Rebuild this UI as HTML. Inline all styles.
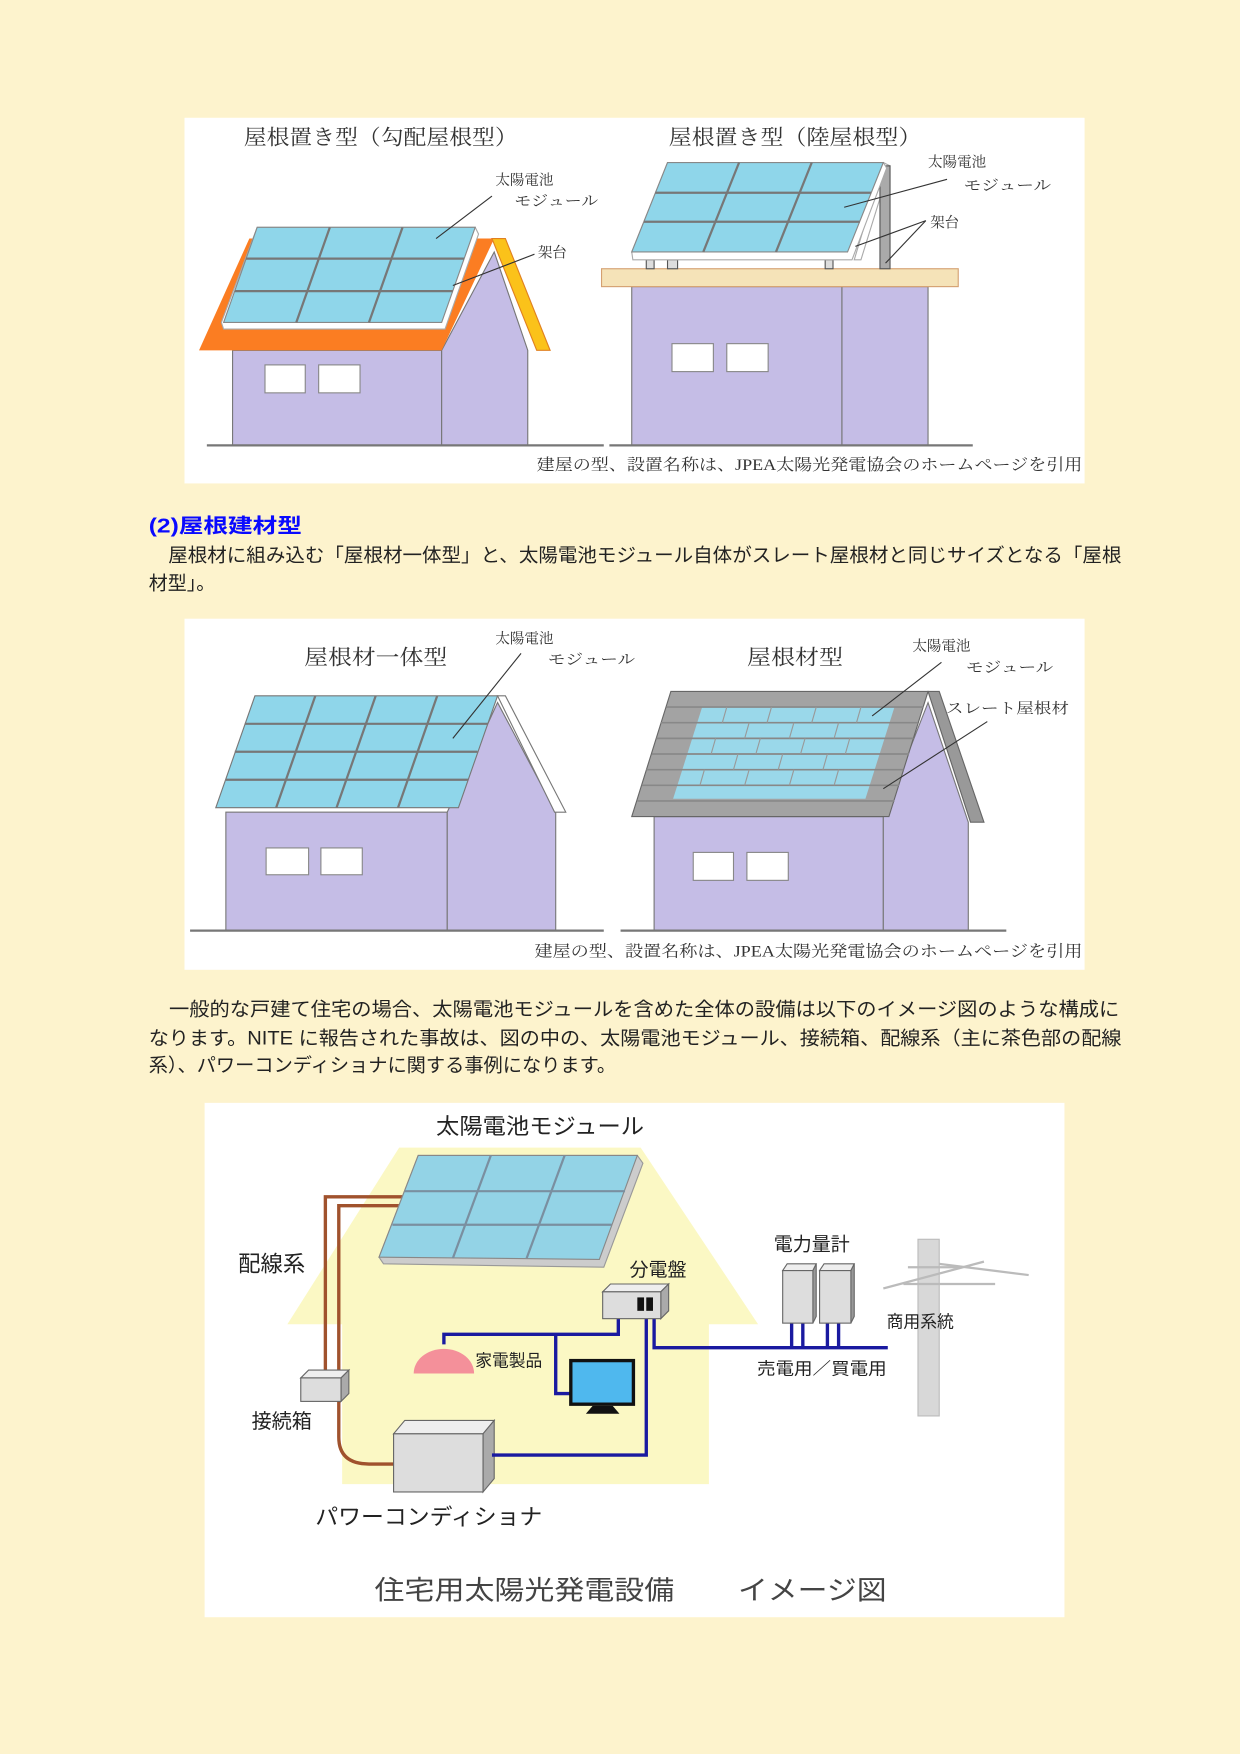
<!DOCTYPE html>
<html><head><meta charset="utf-8"><style>
html,body{margin:0;padding:0;background:#fdf3cd;}
svg{display:block}
.m{font-family:"Liberation Serif","Noto Serif CJK JP","Noto Serif CJK SC",serif;fill:#333}
.g{font-family:"Liberation Sans","Noto Sans CJK JP",sans-serif;fill:#222}
</style></head><body>
<svg width="1240" height="1754" viewBox="0 0 1109 1568" xmlns="http://www.w3.org/2000/svg">
<rect width="1109" height="1568" fill="#fdf3cd"/>

<!-- PANEL 1 -->
<rect x="165" y="105" width="805" height="327" fill="#fff"/>
<text class="m" x="218" y="129" font-size="19" textLength="245" lengthAdjust="spacingAndGlyphs">屋根置き型（勾配屋根型）</text>
<text class="m" x="598" y="129" font-size="19" textLength="226" lengthAdjust="spacingAndGlyphs">屋根置き型（陸屋根型）</text>
<!-- left house -->
<rect x="208" y="313" width="187" height="85" fill="#c5bde6" stroke="#777" stroke-width="1"/>
<polygon points="395,398 395,313 442,225 472,313 472,398" fill="#c5bde6" stroke="#777" stroke-width="1"/>
<polygon points="178,313 223,213 442,213 395,313" fill="#fb7d22"/>
<polygon points="440,213 452,213 492,313 480,313" fill="#fbc21a" stroke="#e08020" stroke-width="1"/>
<rect x="237" y="326" width="36" height="25" fill="#fff" stroke="#888"/>
<rect x="285" y="326" width="37" height="25" fill="#fff" stroke="#888"/>
<line x1="185" y1="398" x2="540" y2="398" stroke="#777" stroke-width="2"/>
<polygon points="230,203 425,203 428,209 398,294 200,294 198,288" fill="#fff" stroke="#aaa"/>
<polygon points="230,203 425,203 395,288 200,288" fill="#8fd6ea" stroke="#888" stroke-width="1"/>
<g stroke="#777" stroke-width="2"><line x1="295" y1="203" x2="265" y2="288"/><line x1="360" y1="203" x2="330" y2="288"/><line x1="220" y1="231" x2="415" y2="231"/><line x1="210" y1="260" x2="405" y2="260"/></g>
<text class="m" x="443" y="165" font-size="13">太陽電池</text>
<text class="m" x="460" y="184" font-size="13" textLength="75" lengthAdjust="spacingAndGlyphs">モジュール</text>
<line x1="440" y1="175" x2="390" y2="213" stroke="#333"/>
<text class="m" x="481" y="230" font-size="13">架台</text>
<line x1="478" y1="227" x2="405" y2="255" stroke="#333"/>
<!-- right house -->
<rect x="565" y="256" width="188" height="142" fill="#c5bde6" stroke="#777"/>
<rect x="753" y="256" width="77" height="142" fill="#c5bde6" stroke="#777"/>
<rect x="538" y="240" width="319" height="16" fill="#f5e3b8" stroke="#d4a070"/>
<rect x="601" y="307" width="37" height="25" fill="#fff" stroke="#888"/>
<rect x="650" y="307" width="37" height="25" fill="#fff" stroke="#888"/>
<line x1="545" y1="398" x2="870" y2="398" stroke="#777" stroke-width="2"/>
<rect x="578" y="232" width="7" height="8" fill="#ddd" stroke="#555"/>
<rect x="597" y="232" width="9" height="8" fill="#ddd" stroke="#555"/>
<rect x="738" y="232" width="7" height="8" fill="#ddd" stroke="#555"/>
<polygon points="790,145 796,148 770,232 764,232" fill="#fff" stroke="#aaa"/>
<rect x="787" y="148" width="9" height="92" fill="#aaa" stroke="#555"/>
<polygon points="597,145 790,145 793,150 762,232 566,232 565,225" fill="#fff" stroke="#aaa"/>
<polygon points="597,145 790,145 758,225 565,225" fill="#8fd6ea" stroke="#888"/>
<g stroke="#777" stroke-width="2"><line x1="661" y1="145" x2="629" y2="225"/><line x1="726" y1="145" x2="694" y2="225"/><line x1="586" y1="172" x2="779" y2="172"/><line x1="576" y1="198" x2="769" y2="198"/></g>
<text class="m" x="830" y="149" font-size="13">太陽電池</text>
<text class="m" x="862" y="170" font-size="13" textLength="78" lengthAdjust="spacingAndGlyphs">モジュール</text>
<line x1="847" y1="160" x2="755" y2="185" stroke="#333"/>
<text class="m" x="832" y="203" font-size="13">架台</text>
<line x1="828" y1="197" x2="765" y2="220" stroke="#333"/>
<line x1="828" y1="197" x2="792" y2="235" stroke="#333"/>
<text class="m" x="480" y="420" font-size="14" textLength="488" lengthAdjust="spacingAndGlyphs" fill="#555">建屋の型、設置名称は、JPEA太陽光発電協会のホームページを引用</text>

<!-- Heading and text -->
<text class="g" x="133" y="476" font-size="18" font-weight="bold" style="fill:#0a0aff" textLength="137" lengthAdjust="spacingAndGlyphs">(2)屋根建材型</text>
<text class="g" x="133" y="502" font-size="17" textLength="870" lengthAdjust="spacingAndGlyphs">　屋根材に組み込む「屋根材一体型」と、太陽電池モジュール自体がスレート屋根材と同じサイズとなる「屋根</text>
<text class="g" x="133" y="527" font-size="17">材型」。</text>

<!-- PANEL 2 -->
<rect x="165" y="553" width="805" height="314" fill="#fff"/>
<text class="m" x="272" y="594" font-size="19" textLength="128" lengthAdjust="spacingAndGlyphs">屋根材一体型</text>
<text class="m" x="668" y="594" font-size="19" textLength="86" lengthAdjust="spacingAndGlyphs">屋根材型</text>
<!-- left -->
<rect x="202" y="726" width="198" height="106" fill="#c5bde6" stroke="#777"/>
<polygon points="400,832 400,726 445,628 497,726 497,832" fill="#c5bde6" stroke="#777"/>
<polygon points="445,622 452,622 506,726 496,726" fill="#fff" stroke="#777"/>
<rect x="238" y="758" width="38" height="24" fill="#fff" stroke="#888"/>
<rect x="287" y="758" width="37" height="24" fill="#fff" stroke="#888"/>
<line x1="170" y1="832" x2="540" y2="832" stroke="#777" stroke-width="2"/>
<polygon points="228,622 445,622 410,722 193,722" fill="#8fd6ea" stroke="#777"/>
<g stroke="#777" stroke-width="2"><line x1="282" y1="622" x2="247" y2="722"/><line x1="336" y1="622" x2="301" y2="722"/><line x1="391" y1="622" x2="356" y2="722"/><line x1="219" y1="647" x2="436" y2="647"/><line x1="210" y1="672" x2="427" y2="672"/><line x1="202" y1="697" x2="419" y2="697"/></g>
<text class="m" x="443" y="575" font-size="13">太陽電池</text>
<text class="m" x="490" y="594" font-size="13" textLength="78" lengthAdjust="spacingAndGlyphs">モジュール</text>
<line x1="466" y1="584" x2="405" y2="660" stroke="#333"/>
<!-- right -->
<rect x="585" y="730" width="205" height="102" fill="#c5bde6" stroke="#777"/>
<polygon points="790,832 790,730 830,628 866,735 866,832" fill="#c5bde6" stroke="#777"/>
<polygon points="830,618 840,618 880,735 868,735" fill="#999" stroke="#666"/>
<rect x="620" y="762" width="36" height="25" fill="#fff" stroke="#888"/>
<rect x="668" y="762" width="37" height="25" fill="#fff" stroke="#888"/>
<line x1="555" y1="832" x2="900" y2="832" stroke="#777" stroke-width="2"/>
<polygon points="600,618 830,618 795,730 565,730" fill="#a3a3a3" stroke="#666"/>
<polygon points="628,632 800,632 774,714 602,714" fill="#9ad8ea"/>
<g stroke="#888" stroke-width="1.5"><line x1="596" y1="632" x2="826" y2="632"/><line x1="591" y1="646" x2="821" y2="646"/><line x1="587" y1="660" x2="817" y2="660"/><line x1="583" y1="674" x2="813" y2="674"/><line x1="578" y1="688" x2="808" y2="688"/><line x1="574" y1="702" x2="804" y2="702"/><line x1="570" y1="716" x2="800" y2="716"/></g>
<g stroke="#999" stroke-width="1"><line x1="650" y1="632" x2="646" y2="646"/><line x1="690" y1="632" x2="686" y2="646"/><line x1="730" y1="632" x2="726" y2="646"/><line x1="770" y1="632" x2="766" y2="646"/><line x1="670" y1="646" x2="666" y2="660"/><line x1="710" y1="646" x2="706" y2="660"/><line x1="750" y1="646" x2="746" y2="660"/><line x1="640" y1="660" x2="636" y2="674"/><line x1="680" y1="660" x2="676" y2="674"/><line x1="720" y1="660" x2="716" y2="674"/><line x1="760" y1="660" x2="756" y2="674"/><line x1="660" y1="674" x2="656" y2="688"/><line x1="700" y1="674" x2="696" y2="688"/><line x1="740" y1="674" x2="736" y2="688"/><line x1="630" y1="688" x2="626" y2="702"/><line x1="670" y1="688" x2="666" y2="702"/><line x1="710" y1="688" x2="706" y2="702"/><line x1="750" y1="688" x2="746" y2="702"/></g>
<text class="m" x="816" y="582" font-size="13">太陽電池</text>
<text class="m" x="864" y="601" font-size="13" textLength="78" lengthAdjust="spacingAndGlyphs">モジュール</text>
<line x1="842" y1="592" x2="780" y2="640" stroke="#333"/>
<text class="m" x="846" y="638" font-size="13" textLength="110" lengthAdjust="spacingAndGlyphs">スレート屋根材</text>
<line x1="883" y1="645" x2="790" y2="705" stroke="#333"/>
<text class="m" x="478" y="855" font-size="14" textLength="490" lengthAdjust="spacingAndGlyphs" fill="#555">建屋の型、設置名称は、JPEA太陽光発電協会のホームページを引用</text>

<!-- paragraph -->
<text class="g" x="133" y="908" font-size="17" textLength="868" lengthAdjust="spacingAndGlyphs">　一般的な戸建て住宅の場合、太陽電池モジュールを含めた全体の設備は以下のイメージ図のような構成に</text>
<text class="g" x="133" y="934" font-size="17" textLength="870" lengthAdjust="spacingAndGlyphs">なります。NITE  に報告された事故は、図の中の、太陽電池モジュール、接続箱、配線系（主に茶色部の配線</text>
<text class="g" x="133" y="958" font-size="17" textLength="418" lengthAdjust="spacingAndGlyphs">系）、パワーコンディショナに関する事例になります。</text>

<!-- PANEL 3 -->
<rect x="183" y="986" width="769" height="460" fill="#fff"/>
<polygon points="357,1026 573,1026 678,1184 634,1184 634,1327 306,1327 306,1184 257,1184" fill="#fbf8c4"/>
<text class="g" x="390" y="1014" font-size="20" textLength="186" lengthAdjust="spacingAndGlyphs">太陽電池モジュール</text>
<g fill="none" stroke="#a0522d" stroke-width="3">
<polyline points="360,1070 291,1070 291,1225"/>
<polyline points="360,1078 303,1078 303,1225"/>
<path d="M303,1252 L303,1285 Q303,1309 330,1309 L352,1309"/>
</g>
<polygon points="374,1033 570,1033 575,1040 540,1133 343,1130 339,1124" fill="#ccc" stroke="#999"/>
<polygon points="374,1033 570,1033 536,1126 339,1124" fill="#93d3e6" stroke="#888"/>
<g stroke="#7a8fa0" stroke-width="2"><line x1="439" y1="1033" x2="405" y2="1125"/><line x1="505" y1="1033" x2="471" y2="1125"/><line x1="362" y1="1065" x2="559" y2="1065"/><line x1="351" y1="1095" x2="547" y2="1095"/></g>
<polygon points="269,1232 276,1225 312,1225 305,1232" fill="#eee" stroke="#666"/>
<polygon points="305,1232 312,1225 312,1246 305,1253" fill="#aaa" stroke="#666"/>
<rect x="269" y="1232" width="36" height="21" fill="#ddd" stroke="#666"/>
<text class="g" x="225" y="1277" font-size="18">接続箱</text>
<text class="g" x="213" y="1137" font-size="20">配線系</text>
<polygon points="352,1282 362,1270 442,1270 432,1282" fill="#eee" stroke="#666"/>
<polygon points="432,1282 442,1270 442,1322 432,1334" fill="#aaa" stroke="#666"/>
<rect x="352" y="1282" width="80" height="52" fill="#ddd" stroke="#666"/>
<text class="g" x="282" y="1363" font-size="20" textLength="203" lengthAdjust="spacingAndGlyphs">パワーコンディショナ</text>
<g fill="none" stroke="#1a1aa0" stroke-width="3">
<polyline points="440,1301 578,1301 578,1178"/>
<polyline points="585,1178 585,1205 794,1205"/>
<polyline points="553,1178 553,1193 397,1193 397,1202"/>
<polyline points="497,1193 497,1246 512,1246"/>
<polyline points="708,1182 708,1205"/><polyline points="718,1182 718,1205"/>
<polyline points="740,1182 740,1205"/><polyline points="750,1182 750,1205"/>
</g>
<polygon points="539,1155 546,1148 598,1148 591,1155" fill="#eee" stroke="#666"/>
<polygon points="591,1155 598,1148 598,1172 591,1179" fill="#aaa" stroke="#666"/>
<rect x="539" y="1155" width="52" height="24" fill="#ddd" stroke="#666"/>
<rect x="570" y="1160" width="6" height="12" fill="#111"/><rect x="578" y="1160" width="6" height="12" fill="#111"/>
<text class="g" x="563" y="1141" font-size="17">分電盤</text>
<path d="M370,1228 A27,22 0 0 1 424,1228 Z" fill="#f4909a"/>
<text class="g" x="425" y="1222" font-size="15">家電製品</text>
<rect x="509" y="1215" width="59" height="42" fill="#111"/>
<rect x="512" y="1218" width="53" height="36" fill="#4fb8ee"/>
<path d="M530,1257 L548,1257 L554,1264 L524,1264 Z" fill="#111"/>
<text class="g" x="692" y="1118" font-size="17">電力量計</text>
<polygon points="700,1136 704,1130 730,1130 727,1136" fill="#eee" stroke="#666"/>
<polygon points="727,1136 730,1130 730,1177 727,1183" fill="#999" stroke="#666"/>
<rect x="700" y="1136" width="27" height="47" fill="#ddd" stroke="#666"/>
<polygon points="733,1136 737,1130 764,1130 761,1136" fill="#eee" stroke="#666"/>
<polygon points="761,1136 764,1130 764,1177 761,1183" fill="#999" stroke="#666"/>
<rect x="733" y="1136" width="28" height="47" fill="#ddd" stroke="#666"/>
<text class="g" x="677" y="1229" font-size="15" textLength="116" lengthAdjust="spacingAndGlyphs">売電用／買電用</text>
<rect x="821" y="1108" width="19" height="158" fill="#d8d8d8" stroke="#bbb"/>
<g stroke="#bbb" stroke-width="2" fill="none"><line x1="790" y1="1152" x2="880" y2="1128"/><line x1="840" y1="1130" x2="920" y2="1140"/><line x1="808" y1="1148" x2="890" y2="1148"/><line x1="812" y1="1133" x2="860" y2="1133"/></g>
<text class="g" x="793" y="1187" font-size="15">商用系統</text>
<text class="g" x="335" y="1430" font-size="24" style="fill:#444" textLength="268" lengthAdjust="spacingAndGlyphs">住宅用太陽光発電設備</text>
<text class="g" x="660" y="1430" font-size="24" style="fill:#444" textLength="133" lengthAdjust="spacingAndGlyphs">イメージ図</text>
</svg>
</body></html>
